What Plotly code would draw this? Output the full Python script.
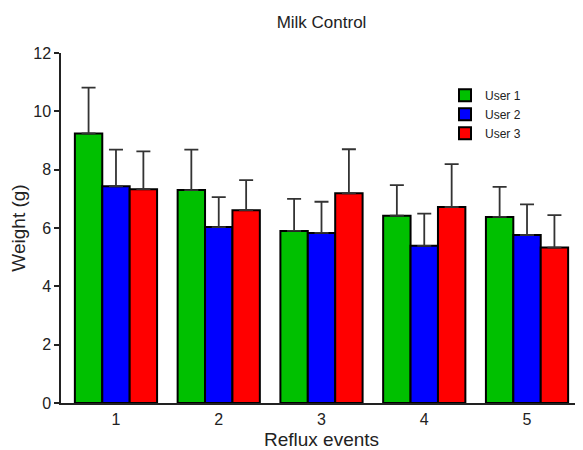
import plotly.graph_objects as go

categories = ["1", "2", "3", "4", "5"]
x_pos = [1, 2, 3, 4, 5]
user1 = [9.24, 7.30, 5.90, 6.42, 6.38]
user2 = [7.43, 6.03, 5.83, 5.39, 5.76]
user3 = [7.33, 6.61, 7.19, 6.72, 5.33]
user1_err = [1.57, 1.39, 1.10, 1.05, 1.03]
user2_err = [1.26, 1.03, 1.07, 1.10, 1.05]
user3_err = [1.30, 1.03, 1.51, 1.47, 1.11]

series = [
    ("User 1", user1, user1_err, "#00C000"),
    ("User 2", user2, user2_err, "#0000FF"),
    ("User 3", user3, user3_err, "#FF0000"),
]

fig = go.Figure()
for name, vals, errs, col in series:
    fig.add_trace(go.Bar(
        x=x_pos, y=vals, name=name,
        marker=dict(color=col, line=dict(color="black", width=2)),
        error_y=dict(type="data", array=errs, arrayminus=[0] * len(errs),
                     symmetric=False, color="#333333", thickness=1.8, width=7),
    ))

font_family = "Liberation Sans, Arial, Helvetica, sans-serif"
plot_w = 521
fig.update_layout(
    width=575, height=442,
    margin=dict(l=53, r=1, t=45, b=47, autoexpand=False),
    paper_bgcolor="white", plot_bgcolor="white",
    barmode="group", bargap=0.2, bargroupgap=0,
    font=dict(family=font_family, size=16, color="#222222"),
    title=dict(text="Milk Control", x=0.5, xref="paper", xanchor="center",
               y=1 - 14 / 442, yref="container", yanchor="middle",
               font=dict(size=17, color="#222222")),
    xaxis=dict(range=[0.465, 5.535], tickmode="array", tickvals=x_pos,
               ticktext=categories, showline=True, linecolor="#222222",
               linewidth=1.5, ticks="", showgrid=False, zeroline=False,
               ticklabelstandoff=1, automargin=False,
               title=dict(text="Reflux events", standoff=9),
               tickfont=dict(size=16)),
    yaxis=dict(range=[0, 12], tickvals=[0, 2, 4, 6, 8, 10, 12],
               showline=True, linecolor="#222222", linewidth=1.5,
               ticks="outside", ticklen=5, tickwidth=1.5, tickcolor="#222222",
               showgrid=False, zeroline=False, automargin=False,
               title=dict(text="Weight (g)", standoff=6),
               tickfont=dict(size=16)),
    legend=dict(x=0.737, y=0.921, xanchor="left", yanchor="top",
                font=dict(size=12), bgcolor="rgba(0,0,0,0)",
                itemsizing="constant", tracegroupgap=0),
    showlegend=True,
    shapes=[dict(type="line", xref="paper", yref="paper",
                 x0=-5 / plot_w, x1=0, y0=0, y1=0,
                 line=dict(color="#222222", width=1.5))],
)
fig.write_html("out.html")
